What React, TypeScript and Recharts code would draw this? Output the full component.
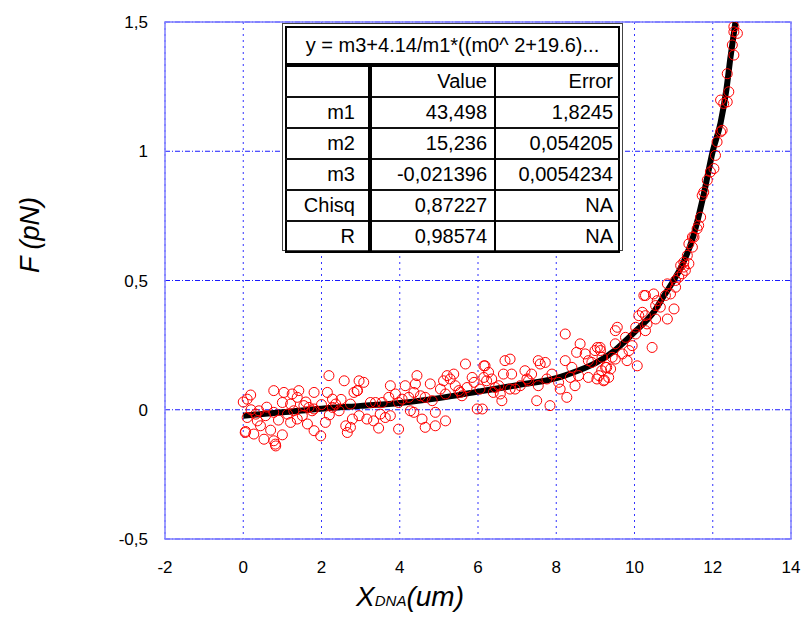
import {
  CartesianGrid,
  ComposedChart,
  Line,
  ReferenceArea,
  Scatter,
  XAxis,
  YAxis,
} from "recharts";

const FONT = "'Liberation Sans', Arial, sans-serif";

const xTicks = [-2, 0, 2, 4, 6, 8, 10, 12, 14];
const yTicks = [-0.5, 0, 0.5, 1, 1.5];

// fitted curve
const curveX = [0, 1, 2, 3, 4, 5, 6, 7, 8, 8.5, 9, 9.5, 10, 10.5, 10.75, 11, 11.25, 11.5, 11.75, 12, 12.2, 12.35, 12.45, 12.58];
const curveY = [-0.023, -0.01, 0.004, 0.015, 0.026, 0.045, 0.07, 0.095, 0.122, 0.148, 0.18, 0.23, 0.3, 0.38, 0.44, 0.5, 0.57, 0.67, 0.82, 1.0, 1.11, 1.24, 1.36, 1.5];

// measured points
const pointsX = [
  0.0, 0.1, 0.19, 0.06, 0.27, 0.53, 0.78, 0.83, 1.0, 0.7, 0.44, 0.36, 0.4, 0.57, 0.78, 1.04, 1.25, 1.42, 1.38, 1.21,
  1.0, 1.13, 1.21, 1.38, 1.51, 1.55, 1.68, 1.81, 1.76, 1.64, 1.81, 1.98, 2.1, 2.19, 2.15, 2.28, 2.36, 2.45, 2.58, 2.62,
  2.66, 2.79, 2.83, 2.92, 2.96, 2.96, 2.74, 0.32, 0.78, 1.29, 1.81, 2.28, 2.74, 0.05, 0.82, 0.1, 0.2, 0.6, 0.9, 1.6,
  2.0, 2.5, 2.2,
  2.91, 3.08, 3.25, 3.16, 3.33, 3.46, 3.5, 3.63, 3.76, 3.55, 3.72, 3.76, 3.89, 3.97, 3.97, 4.14, 4.23, 4.27, 4.36, 4.44,
  4.4, 4.36, 4.53, 4.57, 4.65, 4.78, 4.83, 4.91, 4.91, 5.04, 5.12, 5.17, 5.21, 5.29, 5.38, 5.42, 5.51, 5.59, 5.68, 5.72,
  5.85, 5.9, 5.98, 6.11, 6.15, 6.15, 3.38, 4.06, 4.65, 5.17, 5.55,
  6.18, 6.27, 6.22, 6.35, 6.05, 6.44, 6.57, 6.61, 6.39, 6.65, 6.69, 6.82, 6.86, 6.82, 6.95, 7.08, 7.2, 7.25, 7.37, 7.5,
  7.54, 7.59, 7.54, 7.72, 7.76, 7.84, 8.06, 8.1, 8.23, 8.23, 8.27, 8.36, 8.48, 8.52, 8.57, 8.61, 8.74, 8.82, 8.91, 8.99,
  9.04, 9.12, 9.16, 9.21, 9.29, 6.53, 7.29, 7.89, 8.4, 8.82,
  9.05, 9.13, 9.09, 9.23, 9.34, 9.26, 9.39, 9.43, 9.51, 9.56, 9.51, 9.69, 9.81, 9.86, 9.94, 10.07, 10.03, 10.11, 10.2, 10.28,
  10.45, 10.28, 10.32, 10.49, 10.58, 10.54, 10.66, 10.84, 10.84, 10.92, 11.01, 11.05, 11.13, 11.22, 11.26, 11.39, 11.18, 11.35, 11.39, 11.48,
  9.17, 9.51, 9.77, 10.03, 10.28, 10.54, 10.79, 11.05, 11.26, 11.48,
  11.52, 11.6, 11.64, 11.69, 11.73, 11.77, 11.86, 11.94, 12.03, 12.07, 12.11, 12.2, 12.24, 12.28, 12.37, 12.41, 12.37, 12.54, 12.5, 12.54,
  12.54, 10.24, 11.3, 12.2, 12.63,
];
const pointsY = [
  0.03, 0.041, 0.057, -0.084, -0.094, -0.114, -0.12, -0.14, -0.097, -0.079, -0.062, -0.043, -0.004, -0.023, 0.074, 0.067, 0.061, 0.074, 0.048, 0.022,
  0.028, -0.017, -0.049, -0.036, -0.023, 0.016, 0.009, 0.067, -0.004, -0.055, -0.081, -0.101, -0.049, 0.132, 0.067, 0.041, 0.022, -0.004, 0.112, -0.062,
  -0.088, -0.036, 0.067, 0.074, 0.112, -0.023, -0.068, -0.017, -0.01, -0.004, 0.003, 0.009, 0.022, -0.088, -0.133, -0.03, 0.0, 0.01, -0.04, 0.03,
  0.02, 0.04, -0.02,
  0.074, 0.106, 0.028, -0.036, -0.043, -0.071, -0.017, -0.03, -0.023, 0.028, 0.048, 0.093, 0.061, -0.075, 0.028, 0.093, 0.048, -0.004, -0.01, 0.132,
  0.1, 0.067, 0.054, -0.036, -0.068, 0.1, 0.035, -0.01, -0.062, 0.08, 0.112, -0.043, 0.132, 0.119, 0.138, 0.093, 0.074, 0.054, 0.177, 0.086,
  0.125, 0.106, 0.003, 0.003, 0.17, 0.125, 0.028, 0.041, 0.048, 0.061, 0.067,
  0.17, 0.145, 0.112, 0.119, 0.08, 0.086, 0.061, 0.035, 0.067, 0.138, 0.19, 0.196, 0.138, 0.08, 0.08, 0.093, 0.151, 0.119, 0.138, 0.035,
  0.19, 0.177, 0.093, 0.183, 0.119, 0.016, 0.106, 0.08, 0.19, 0.293, 0.048, 0.125, 0.093, 0.222, 0.132, 0.255, 0.216, 0.125, 0.183, 0.229,
  0.119, 0.241, 0.151, 0.112, 0.164, 0.093, 0.112, 0.138, 0.164, 0.19,
  0.241, 0.229, 0.132, 0.115, 0.125, 0.164, 0.158, 0.203, 0.196, 0.319, 0.306, 0.216, 0.19, 0.229, 0.248, 0.17, 0.293, 0.364, 0.377, 0.442,
  0.241, 0.306, 0.332, 0.448, 0.422, 0.351, 0.397, 0.351, 0.487, 0.448, 0.39, 0.474, 0.513, 0.526, 0.571, 0.565, 0.558, 0.597, 0.642, 0.668,
  0.203, 0.255, 0.28, 0.319, 0.364, 0.403, 0.442, 0.5, 0.552, 0.629,
  0.668, 0.7, 0.713, 0.745, 0.829, 0.842, 0.888, 0.92, 0.933, 0.984, 1.036, 1.075, 1.081, 1.185, 1.191, 1.23, 1.3, 1.372, 1.411, 1.462,
  1.482, 0.442, 0.539, 1.198, 1.456,
];

const fitTitle = "y = m3+4.14/m1*((m0^ 2+19.6)...";
const paramNames = ["m1", "m2", "m3", "Chisq", "R"];
const paramValues = ["43,498", "15,236", "-0,021396", "0,87227", "0,98574"];
const paramErrors = ["1,8245", "0,054205", "0,0054234", "NA", "NA"];

const curve = curveX.map((x, i) => ({ x, y: curveY[i] }));
const points = pointsX.map((x, i) => ({ x, y: pointsY[i] }));

const Ring = (props: any) => (
  <circle cx={props.cx} cy={props.cy} r={5} fill="none" stroke="#ff0000" strokeWidth={1} />
);

const tick = { fontSize: 17, fill: "#000", fontFamily: FONT };

function FitTable() {
  const cell = {
    borderTop: "2px solid #111",
    height: 29,
    textAlign: "right" as const,
    padding: "0 5px 0 0",
  };
  return (
    <div
      style={{
        position: "absolute",
        left: 282,
        top: 23,
        width: 341,
        height: 228,
        boxSizing: "border-box",
        border: "1px solid #444",
        padding: 2,
        background: "#fff",
      }}
    >
      <table
        style={{
          width: "100%",
          height: "100%",
          borderCollapse: "collapse",
          border: "2px solid #000",
          fontFamily: FONT,
          fontSize: 20,
          color: "#000",
          tableLayout: "fixed",
        }}
      >
        <colgroup>
          <col style={{ width: 84 }} />
          <col style={{ width: 125 }} />
          <col />
        </colgroup>
        <tbody>
          <tr>
            <td colSpan={3} style={{ height: 33, textAlign: "center", borderBottom: "4px solid #000", whiteSpace: "nowrap" }}>
              {fitTitle}
            </td>
          </tr>
          <tr>
            <td style={{ ...cell, borderTop: "none", borderRight: "4px solid #000" }} />
            <td style={{ ...cell, borderTop: "none", borderRight: "2px solid #000", paddingRight: 7 }}>Value</td>
            <td style={{ ...cell, borderTop: "none" }}>Error</td>
          </tr>
          {paramNames.map((name, i) => (
            <tr key={name}>
              <td style={{ ...cell, borderRight: "4px solid #000", paddingRight: 13 }}>{name}</td>
              <td style={{ ...cell, borderRight: "2px solid #000", paddingRight: 7 }}>{paramValues[i]}</td>
              <td style={cell}>{paramErrors[i]}</td>
            </tr>
          ))}
        </tbody>
      </table>
    </div>
  );
}

export default function App() {
  return (
    <div style={{ position: "absolute", left: 0, top: 0, width: 803, height: 628, background: "#fff" }}>
      <ComposedChart width={803} height={628} margin={{ top: 22, right: 12, bottom: 0, left: 0 }}>
        <CartesianGrid horizontal vertical={false} stroke="#1a1aff" strokeDasharray="5 2 1 2" />
        <CartesianGrid horizontal={false} vertical stroke="#3333ff" strokeDasharray="2 4" />
        <XAxis
          dataKey="x"
          type="number"
          domain={[-2, 14]}
          ticks={xTicks}
          height={89}
          axisLine={false}
          tickLine={false}
          tickSize={0}
          tickMargin={22}
          tick={tick}
          allowDataOverflow
          label={{
            content: () => (
              <text x={410} y={606} textAnchor="middle" fontFamily={FONT} fontStyle="italic" fontSize={28} fill="#000">
                X<tspan fontSize={15}>DNA</tspan>(um)
              </text>
            ),
          }}
        />
        <YAxis
          dataKey="y"
          type="number"
          domain={[-0.5, 1.5]}
          ticks={yTicks}
          width={165}
          axisLine={false}
          tickLine={false}
          tickSize={0}
          tickMargin={17}
          tick={tick}
          allowDataOverflow
          tickFormatter={(v: number) => String(v).replace(".", ",")}
          label={{
            content: () => (
              <text
                x={39}
                y={235}
                transform="rotate(-90 39 235)"
                textAnchor="middle"
                fontFamily={FONT}
                fontStyle="italic"
                fontSize={27}
                fill="#000"
              >
                F (pN)
              </text>
            ),
          }}
        />
        <ReferenceArea x1={-2} x2={14} y1={-0.5} y2={1.5} fill="none" stroke="#7f7fff" strokeWidth={1.5} fillOpacity={0} />
        <Line
          data={curve}
          dataKey="y"
          type="monotone"
          stroke="#000"
          strokeWidth={6}
          dot={false}
          activeDot={false}
          isAnimationActive={false}
        />
        <Scatter data={points} dataKey="y" shape={Ring} isAnimationActive={false} />
      </ComposedChart>
      <FitTable />
    </div>
  );
}
